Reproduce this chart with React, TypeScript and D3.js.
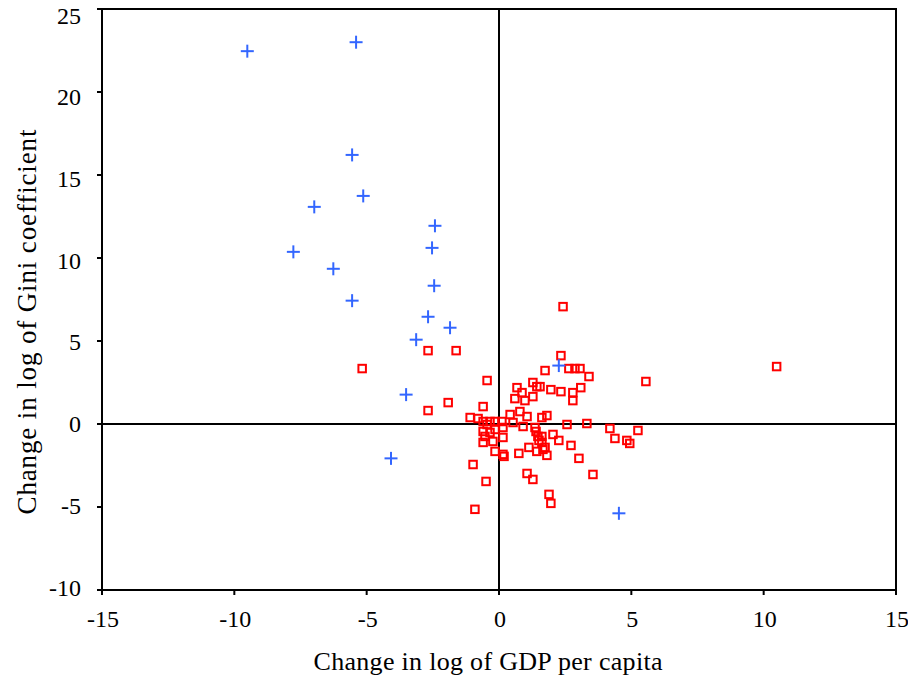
import React from "react";
import * as d3 from "d3";

const WIDTH = 908;
const HEIGHT = 679;
const MARGIN = { top: 9, right: 12, bottom: 89, left: 102 };

const X_TICKS = [-15, -10, -5, 0, 5, 10, 15];
const Y_TICKS = [-10, -5, 0, 5, 10, 15, 20, 25];

// blue "+" points: change in GDP per capita, change in Gini
const blueX = [-9.51, -5.4, -5.55, -5.13, -6.98, -2.42, -2.53, -7.77, -6.26, -2.45, -5.55, -2.68, -1.85, -3.13, -3.51, -4.08, 2.26, 4.53];
const blueY = [22.46, 23.0, 16.21, 13.74, 13.08, 11.94, 10.61, 10.37, 9.35, 8.33, 7.43, 6.46, 5.8, 5.08, 1.77, -2.07, 3.52, -5.38];

// red squares
const redX = [
  2.42, -5.17, -2.68, -1.62, -0.45, -1.92, -2.68, 10.49, 5.55, 2.34,
  1.74, 2.64, 2.87, 3.06, 3.4, 1.55, 1.96, 2.34, 2.79, 3.09,
  2.79, 1.81, 1.62, 2.57, 3.32, 4.19, 4.38, 4.83, 4.94, 5.25,
  2.04, 2.26, 2.72, 3.02, 3.55, 1.89, 1.96, 1.62, 1.62, 1.66,
  1.81, -0.98, -0.49, -0.91, 0.19, 0.75, 1.13, 1.06, 1.28, 1.4,
  1.47, 1.43, -0.6, -1.09, -0.79, 0.68, 0.87, 1.28, 1.43, 1.28,
  0.6, 0.98, 0.42, 0.79, 1.06, -0.34, 0.11, 0.53, 0.91, -0.15,
  -0.6, -0.45, -0.6, -0.53, -0.34, -0.15, 0.15, 0.15, -0.6, -0.23,
  -0.15, 0.15, 1.36, 1.74, 1.51,
];
const redY = [
  7.07, 3.34, 4.42, 4.42, 2.62, 1.29, 0.81, 3.46, 2.56, 4.12,
  3.22, 3.34, 3.34, 3.34, 2.86, 2.25, 2.07, 1.95, 1.89, 2.19,
  1.41, 0.51, 0.39, -0.03, 0.03, -0.27, -0.87, -0.99, -1.17, -0.39,
  -0.63, -0.99, -1.29, -2.07, -3.04, -4.24, -4.78, -0.75, -1.11, -1.53,
  -1.89, -2.44, -3.46, -5.14, -1.95, -1.77, -1.41, -2.98, -3.34, -0.45,
  -0.75, -1.65, 1.05, 0.39, 0.33, 2.19, 1.89, 2.5, 2.25, 1.65,
  1.53, 1.41, 0.57, 0.75, 0.45, 0.15, 0.15, 0.09, -0.15, 0.15,
  0.15, -0.03, -0.45, -0.75, -0.51, -0.33, -0.21, -0.81, -1.11, -1.05,
  -1.65, -1.83, -0.21, -1.41, -0.99,
];

const FONT = "'Liberation Serif', 'Times New Roman', serif";

export default function App() {
  const boundsWidth = WIDTH - MARGIN.left - MARGIN.right;
  const boundsHeight = HEIGHT - MARGIN.top - MARGIN.bottom;

  const xScale = d3.scaleLinear().domain([-15, 15]).range([0, boundsWidth]);
  const yScale = d3.scaleLinear().domain([-10, 25]).range([boundsHeight, 0]);
  // tick labels sit a little lower toward the top, like the original
  const yLabel = d3.scaleLinear().domain([-10, 25]).range([boundsHeight, 9]);

  const plus = 6.5;
  const sq = 7.5;

  return (
    <svg
      width={WIDTH}
      height={HEIGHT}
      style={{ position: "absolute", left: 0, top: 0, background: "#fff" }}
    >
      <g transform={`translate(${MARGIN.left},${MARGIN.top})`}>
        {/* frame */}
        <rect x={0} y={0} width={boundsWidth} height={boundsHeight} fill="none" stroke="#000" strokeWidth={2} />
        {/* zero lines */}
        <line x1={xScale(0)} x2={xScale(0)} y1={0} y2={boundsHeight} stroke="#000" strokeWidth={2} />
        <line x1={0} x2={boundsWidth} y1={yScale(0)} y2={yScale(0)} stroke="#000" strokeWidth={2} />

        {/* y axis ticks */}
        {Y_TICKS.map((t) => (
          <g key={"y" + t}>
            <line x1={-5} x2={0} y1={yScale(t)} y2={yScale(t)} stroke="#000" strokeWidth={2} />
            <text
              x={-21}
              y={yLabel(t)}
              textAnchor="end"
              dominantBaseline="middle"
              fontFamily={FONT}
              fontSize={24}
            >
              {t}
            </text>
          </g>
        ))}

        {/* x axis ticks */}
        {X_TICKS.map((t) => (
          <g key={"x" + t}>
            <line x1={xScale(t)} x2={xScale(t)} y1={boundsHeight} y2={boundsHeight + 5} stroke="#000" strokeWidth={2} />
            <text
              x={xScale(t) + 1}
              y={boundsHeight + 37}
              textAnchor="middle"
              fontFamily={FONT}
              fontSize={24}
            >
              {t}
            </text>
          </g>
        ))}

        {/* red squares */}
        {redX.map((x, i) => (
          <rect
            key={"r" + i}
            x={xScale(x) - sq / 2}
            y={yScale(redY[i]) - sq / 2}
            width={sq}
            height={sq}
            fill="none"
            stroke="#ff0000"
            strokeWidth={2}
          />
        ))}

        {/* blue plus */}
        {blueX.map((x, i) => {
          const cx = xScale(x);
          const cy = yScale(blueY[i]);
          return (
            <g key={"b" + i} stroke="#3366ff" strokeWidth={2}>
              <line x1={cx - plus} x2={cx + plus} y1={cy} y2={cy} />
              <line x1={cx} x2={cx} y1={cy - plus} y2={cy + plus} />
            </g>
          );
        })}
      </g>

      <text
        x={488}
        y={670}
        textAnchor="middle"
        fontFamily={FONT}
        fontSize={26}
        textLength={349}
      >
        Change in log of GDP per capita
      </text>
      <text
        transform={`translate(36,${322}) rotate(-90)`}
        textAnchor="middle"
        fontFamily={FONT}
        fontSize={27}
        textLength={385}
      >
        Change in log of Gini coefficient
      </text>
    </svg>
  );
}
